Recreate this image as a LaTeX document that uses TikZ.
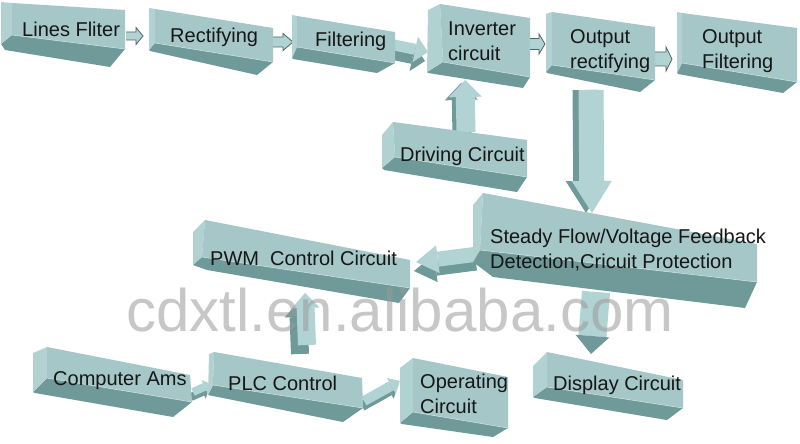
\documentclass[tikz,border=0pt]{standalone}
\usepackage{fontspec}
\setmainfont{Liberation Sans}
\usetikzlibrary{calc,arrows.meta}
\definecolor{fface}{HTML}{A5C7C7}
\definecolor{lface}{HTML}{B2D2D2}
\definecolor{dface}{HTML}{709999}
\definecolor{edgec}{HTML}{C4DDDD}
\definecolor{arl}{HTML}{B2D3D3}
\definecolor{arout}{HTML}{4F6464}
\definecolor{wmc}{HTML}{999999}
\definecolor{txt}{HTML}{161616}
% O A B C D L E F
\newcommand\prismbox[8]{%
  \fill[dface] (#6) -- (#5) -- (#4) -- (#7) -- (#8) -- cycle;
  \fill[lface] (#1) -- (#2) -- (#5) -- (#6) -- cycle;
  \fill[fface] (#2) -- (#3) -- (#4) -- (#5) -- cycle;
  \draw[edgec, line width=0.6pt] (#5) -- (#4);
}
% start, end, shaft half, head half, head length
\newcommand\flatarrow[5]{%
  \draw[arout, fill=arl, line width=0.8pt]
    ($(#1)+(0,-#3)$) -- ($(#2)+(-#5,-#3)$) -- ($(#2)+(-#5,-#4)$) -- (#2)
    -- ($(#2)+(-#5,#4)$) -- ($(#2)+(-#5,#3)$) -- ($(#1)+(0,#3)$);
}
% start, end, shaft width, tip length, tip width, dx, dy
\newcommand\blockarrow[7]{%
  \draw[dface, line width=#3, -{Triangle[length=#4, width=#5, line width=0pt]},
        transform canvas={shift={(#6,#7)}}] (#1) -- (#2);
  \draw[arl, line width=#3, -{Triangle[length=#4, width=#5, line width=0pt]}] (#1) -- (#2);
}
\tikzset{
  lbl/.style={anchor=base west, inner sep=0pt, text=txt, align=left,
    font=\fontsize{20pt}{24.5pt}\selectfont},
}
\begin{document}
\begin{tikzpicture}[x=1pt,y=-1pt]
\useasboundingbox (0,0) rectangle (800,444);
\fill[white] (0,0) rectangle (800,444);

% connector end points
\coordinate (a1s) at (126,36);  \coordinate (a1e) at (143,36);
\coordinate (a2s) at (267,42);  \coordinate (a2e) at (293,42);
\coordinate (a3s) at (394,45);  \coordinate (a3e) at (428,52);
\coordinate (a4s) at (530,44);  \coordinate (a4e) at (545,44);
\coordinate (a5s) at (655,59);  \coordinate (a5e) at (672,59);
\coordinate (a6s) at (466,132); \coordinate (a6e) at (465,80);
\coordinate (a7s) at (591,90);  \coordinate (a7e) at (592,213);
\coordinate (a8s) at (478,254); \coordinate (a8e) at (416,262);
\coordinate (a9s) at (307,345); \coordinate (a9e) at (305,293);
\coordinate (a10s) at (596,292); \coordinate (a10e) at (591,354);
\coordinate (a11s) at (193,392); \coordinate (a11e) at (211,384);
\coordinate (a12s) at (364,401); \coordinate (a12e) at (400,381);

% connectors
\flatarrow{a1s}{a1e}{4}{8.5}{7}
\flatarrow{a2s}{a2e}{5}{8.5}{10}
\flatarrow{a4s}{a4e}{5.5}{10}{6}
\flatarrow{a5s}{a5e}{7}{12}{6}
\blockarrow{a3s}{a3e}{11pt}{13pt}{26pt}{-3}{9}
\blockarrow{a6s}{a6e}{19pt}{17pt}{33pt}{-4}{3}
\blockarrow{a7s}{a7e}{25pt}{32pt}{40pt}{-6}{0}
\blockarrow{a8s}{a8e}{15pt}{22pt}{28pt}{-2}{9}
\blockarrow{a9s}{a9e}{18pt}{15pt}{28pt}{-7}{9}
\draw[arl, line width=28pt, -{Triangle[length=18pt, width=34pt, line width=0pt, color=dface, fill=dface]}] (a10s) -- (a10e);
\blockarrow{a11s}{a11e}{8pt}{7pt}{15pt}{-2}{5}
\blockarrow{a12s}{a12e}{10pt}{10pt}{18pt}{-2}{5}

% boxes
\prismbox{1,2}{12,3}{125,10}{125,49}{12,35}{1,44}{110,67}{5,50}
\prismbox{149,8}{155,9}{273,28}{273,62}{155,43}{149,50}{257,75}{150,51}
\prismbox{292,15}{297,16}{395,32}{395,63}{297,47}{292,58}{377,73}{293,59}
\prismbox{428,10}{440,4}{530,18}{530,77}{443,62}{427,72}{523,88}{428,73}
\prismbox{546,14}{552,12}{655,27}{655,80}{552,65}{546,72}{640,92}{547,73}
\prismbox{677,12}{682,13}{797,28}{797,82}{682,63}{677,73}{783,93}{678,74}
\prismbox{382,135}{393,122}{527,140}{527,177}{395,157}{382,168}{517,192}{384,170}
\prismbox{473,205}{483,193}{757,244}{757,282}{480,250}{473,262}{745,308}{493,277}
\prismbox{193,232}{205,220}{410,260}{410,288}{202,257}{193,265}{399,303}{207,270}
\prismbox{33,353}{47,347}{190,375}{192,402}{47,378}{33,392}{173,417}{35,393}
\prismbox{209,354}{214,352}{362,378}{363,408}{213,385}{208,395}{343,422}{208,395}
\prismbox{400,368}{413,358}{508,377}{508,428}{413,412}{400,423}{493,437}{402,424}
\prismbox{533,366}{547,352}{683,380}{683,408}{547,387}{533,397}{667,420}{535,398}

% labels (base = baseline of last line)
\node[lbl] (lf) at (22,37) {Lines Fliter};
\node[lbl] (rec) at (170,43) {Rectifying};
\node[lbl] (filt) at (315,47) {Filtering};
\node[lbl] (inv) at (448,60) {Inverter\\circuit};
\node[lbl] (orec) at (570,68) {Output\\rectifying};
\node[lbl] (ofilt) at (702,68) {Output\\Filtering};
\node[lbl] (drv) at (400,161) {Driving Circuit};
\node[lbl] (sfv) at (490,268) {Steady Flow/Voltage Feedback\\Detection,Cricuit Protection};
\node[lbl] (pwm) at (210,265) {PWM\ \ Control Circuit};
\node[lbl] (cam) at (53,385) {Computer Ams};
\node[lbl] (plc) at (228,390) {PLC Control};
\node[lbl] (opc) at (420,413) {Operating\\Circuit};
\node[lbl] (dsp) at (553,390) {Display Circuit};

% watermark
\node[anchor=base, inner sep=0pt, text=wmc, text opacity=0.55,
      font=\fontsize{60pt}{60pt}\selectfont] (wm) at (400,331) {cdxtl.en.alibaba.com};
\end{tikzpicture}
\end{document}
